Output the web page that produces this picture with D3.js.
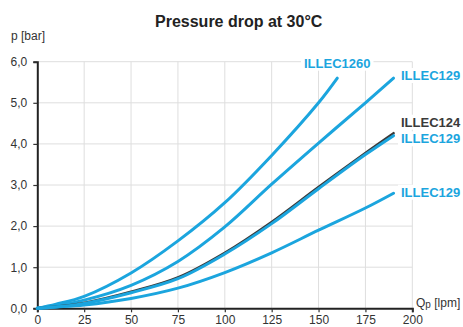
<!DOCTYPE html>
<html><head><meta charset="utf-8">
<script src="https://cdn.jsdelivr.net/npm/d3@7"></script>
<style>
html,body{margin:0;padding:0;background:#fff;}
text{font-family:"Liberation Sans",Arial,sans-serif;}
</style></head>
<body><svg id="c" width="463" height="327"></svg>
<script>
// ---- data ----
const title = "Pressure drop at 30°C";
const xTicks = [0, 25, 50, 75, 100, 125, 150, 175, 200];
const yTicks = [0, 1, 2, 3, 4, 5, 6];
const yTickLabels = ["0,0", "1,0", "2,0", "3,0", "4,0", "5,0", "6,0"];
const seriesNames = ["ILLEC1260", "ILLEC129", "ILLEC124", "ILLEC129", "ILLEC129"];
const flow1 = [0, 10, 25, 50, 75, 100, 125, 150, 160];
const drop1 = [0, 0.10, 0.29, 0.86, 1.64, 2.57, 3.72, 5.0, 5.6];
const flow2 = [0, 10, 25, 50, 75, 100, 125, 150, 175, 190];
const drop2 = [0, 0.07, 0.20, 0.56, 1.14, 1.98, 3.02, 4.02, 5.0, 5.6];
const flow3 = [0, 10, 25, 50, 75, 100, 125, 150, 175, 190];
const drop3 = [0, 0.04, 0.13, 0.40, 0.75, 1.35, 2.10, 2.95, 3.78, 4.26];
const flow4 = [0, 10, 25, 50, 75, 100, 125, 150, 175, 190];
const drop4 = [0, 0.03, 0.12, 0.38, 0.72, 1.32, 2.06, 2.91, 3.74, 4.20];
const flow5 = [0, 10, 25, 50, 75, 100, 125, 150, 175, 190];
const drop5 = [0, 0.03, 0.08, 0.24, 0.49, 0.87, 1.35, 1.90, 2.44, 2.8];

const blue = "#1ba5de", dark = "#3a3a3a";
const series = [
  {name: seriesNames[0], q: flow1, p: drop1, color: blue, w: 3},
  {name: seriesNames[1], q: flow2, p: drop2, color: blue, w: 3},
  {name: seriesNames[2], q: flow3, p: drop3, color: dark, w: 2.6},
  {name: seriesNames[3], q: flow4, p: drop4, color: blue, w: 3},
  {name: seriesNames[4], q: flow5, p: drop5, color: blue, w: 3}
];

const svg = d3.select("#c");
const x = d3.scaleLinear().domain([0, 200]).range([37.3, 412.3]);
const y = d3.scaleLinear().domain([0, 6]).range([308.3, 61.7]);

// grid
svg.append("g").selectAll("line").data(yTicks.slice(1)).join("line")
  .attr("x1", x(0)).attr("x2", x(200)).attr("y1", d => y(d)).attr("y2", d => y(d))
  .attr("stroke", "#dedede").attr("stroke-width", 1);
svg.append("g").selectAll("line").data(xTicks.slice(1)).join("line")
  .attr("x1", d => x(d)).attr("x2", d => x(d)).attr("y1", y(0)).attr("y2", y(6))
  .attr("stroke", "#dedede").attr("stroke-width", 1);

// axes
const yAxis = d3.axisLeft(y).tickValues(yTicks).tickFormat((d, i) => yTickLabels[i]).tickSize(4).tickPadding(6);
const gy = svg.append("g").attr("transform", `translate(${x(0)},0)`).call(yAxis);
const xAxis = d3.axisBottom(x).tickValues(xTicks).tickSize(4).tickPadding(6);
const gx = svg.append("g").attr("transform", `translate(0,${y(0)})`).call(xAxis);
[gy, gx].forEach(g => {
  g.select(".domain").attr("stroke", "#222").attr("stroke-width", 2);
  g.selectAll(".tick line").attr("stroke", "#333").attr("stroke-width", 1.2);
  g.selectAll("text").attr("font-size", 12).attr("fill", "#333")
    .attr("font-family", "'Liberation Sans', Arial, sans-serif");
});
gx.selectAll(".tick text").attr("dy", null).attr("y", 15.4);

// curves
const line = d3.line().x(d => x(d[0])).y(d => y(d[1])).curve(d3.curveCatmullRom.alpha(0.5));
series.forEach(s => {
  svg.append("path").datum(s.q.map((q, i) => [q, s.p[i]]))
    .attr("d", line).attr("fill", "none").attr("stroke", s.color)
    .attr("stroke-width", s.w).attr("stroke-linecap", "round");
});

// labels
const labels = [
  {i: 0, x: 304, y: 67.7},
  {i: 1, x: 401, y: 80},
  {i: 2, x: 401, y: 126.7},
  {i: 3, x: 401, y: 143.3},
  {i: 4, x: 401, y: 196.7}
];
labels.forEach(l => {
  const s = series[l.i];
  const g = svg.append("g");
  const t = g.append("text").attr("x", l.x).attr("y", l.y).text(s.name)
    .attr("font-size", 13).attr("font-weight", "bold").attr("fill", s.color);
  const bb = t.node().getBBox();
  g.insert("rect", "text").attr("x", bb.x - 3).attr("y", bb.y).attr("width", bb.width + 6)
    .attr("height", bb.height).attr("fill", "#fff");
});

// titles
svg.append("text").attr("x", 238.7).attr("y", 27).attr("text-anchor", "middle")
  .attr("font-size", 16).attr("font-weight", "bold").attr("fill", "#222").text(title);
svg.append("text").attr("x", 11).attr("y", 40).attr("font-size", 12).attr("fill", "#333").text("p [bar]");
const xl = svg.append("text").attr("x", 416).attr("y", 306.5).attr("font-size", 12).attr("fill", "#333");
xl.append("tspan").text("Q");
xl.append("tspan").attr("font-size", 10).attr("dy", 1).text("p");
xl.append("tspan").attr("dy", -1).text(" [lpm]");
</script></body></html>
